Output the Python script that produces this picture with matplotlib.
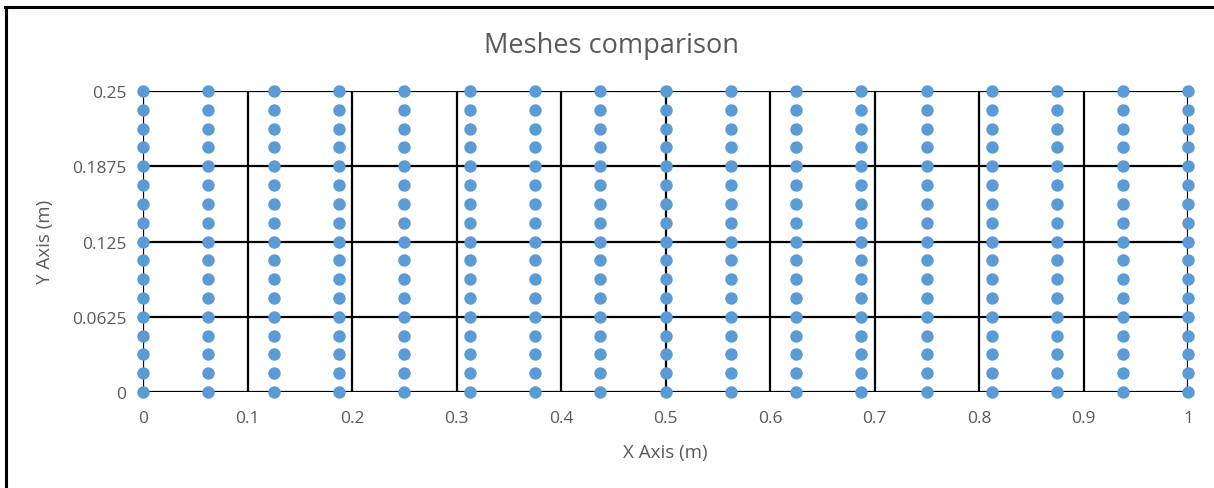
import numpy as np
import matplotlib.pyplot as plt
from matplotlib.lines import Line2D

plt.rcParams['font.family'] = ['Open Sans', 'DejaVu Sans']

# mesh node coordinates (16 x 16 cells on a 1 x 0.25 m domain)
x_nodes = [0, 0.0625, 0.125, 0.1875, 0.25, 0.3125, 0.375, 0.4375, 0.5,
           0.5625, 0.625, 0.6875, 0.75, 0.8125, 0.875, 0.9375, 1.0]
y_nodes = [0, 0.015625, 0.03125, 0.046875, 0.0625, 0.078125, 0.09375,
           0.109375, 0.125, 0.140625, 0.15625, 0.171875, 0.1875,
           0.203125, 0.21875, 0.234375, 0.25]

x_ticks = [0, 0.1, 0.2, 0.3, 0.4, 0.5, 0.6, 0.7, 0.8, 0.9, 1]
x_labels = ['0', '0.1', '0.2', '0.3', '0.4', '0.5', '0.6', '0.7', '0.8', '0.9', '1']
y_ticks = [0, 0.0625, 0.125, 0.1875, 0.25]
y_labels = ['0', '0.0625', '0.125', '0.1875', '0.25']

X, Y = np.meshgrid(x_nodes, y_nodes)

W, H = 1214, 489
fig = plt.figure(figsize=(W / 100, H / 100), dpi=100)
ax = fig.add_axes([0.1178, 0.1963, 0.8608, 0.6155])

ax.set_xlim(0, 1)
ax.set_ylim(0, 0.25)
ax.set_xticks(x_ticks)
ax.set_xticklabels(x_labels)
ax.set_yticks(y_ticks)
ax.set_yticklabels(y_labels)

ax.grid(True, color='black', linewidth=1.6, zorder=1)
ax.set_axisbelow(True)
for s in ax.spines.values():
    s.set_visible(False)
ax.tick_params(length=0, labelsize=12.5, labelcolor='#595959')
ax.tick_params(axis='x', pad=13)
ax.tick_params(axis='y', pad=12)

ax.scatter(X.ravel(), Y.ravel(), s=80, color='#5B9BD5', zorder=3,
           linewidths=0, clip_on=False)

# title and axis titles placed in figure pixels
fig.text(612 / W, 1 - 46 / H, 'Meshes comparison', fontsize=19.5,
         color='#595959', ha='center', va='center')
fig.text(665 / W, 1 - 453 / H, 'X Axis (m)', fontsize=13.5,
         color='#595959', ha='center', va='center')
fig.text(45 / W, 1 - 242 / H, 'Y Axis (m)', fontsize=13.5,
         color='#595959', ha='center', va='center', rotation=90)

# outer chart frame (top and left edges)
fig.add_artist(Line2D([0.004, 1.0], [1 - 8 / H, 1 - 8 / H], color='black',
                      linewidth=2.2, transform=fig.transFigure))
fig.add_artist(Line2D([6 / W, 6 / W], [0.0, 1 - 8 / H], color='black',
                      linewidth=2.2, transform=fig.transFigure))

fig.savefig('out.png', dpi=100)
